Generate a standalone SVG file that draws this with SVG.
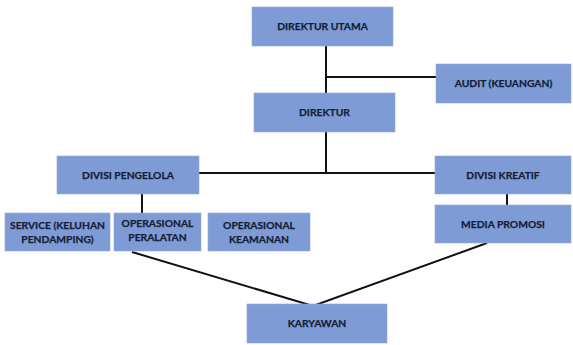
<svg xmlns="http://www.w3.org/2000/svg" width="573" height="345" viewBox="0 0 573 345">
<style>
.box{fill:#7F9BD5;stroke:#8FA8DA;stroke-width:0.6}
.t{font-family:Lato,"Liberation Sans",sans-serif;font-weight:bold;font-size:10.3px;fill:#151d36;text-anchor:middle;stroke:#151d36;stroke-width:0.25}
.c{stroke:#111;stroke-width:2;fill:none}
</style>
<rect width="573" height="345" fill="#fff"/>
<g id="connectors">
<path class="c" d="M326 46V93M326 77H436M326 132V173M199 173H435M142 194V213M507 194V205M132 252L313 306L487 243"/>
</g>
<g id="direktur-utama"><rect class="box" x="252" y="7" width="141" height="39"/><text class="t" x="322.5" y="30">DIREKTUR UTAMA</text></g>
<g id="audit"><rect class="box" x="436" y="64" width="135" height="39"/><text class="t" x="503.5" y="87">AUDIT (KEUANGAN)</text></g>
<g id="direktur"><rect class="box" x="254" y="93" width="141" height="39"/><text class="t" x="324.5" y="116">DIREKTUR</text></g>
<g id="divisi-pengelola"><rect class="box" x="57" y="156" width="142" height="38"/><text class="t" x="128" y="179">DIVISI PENGELOLA</text></g>
<g id="divisi-kreatif"><rect class="box" x="435" y="156" width="136" height="38"/><text class="t" x="503" y="179">DIVISI KREATIF</text></g>
<g id="service"><rect class="box" x="5" y="213" width="105" height="38"/><text class="t" x="57.5" y="229">SERVICE (KELUHAN</text><text class="t" x="57.5" y="243">PENDAMPING)</text></g>
<g id="operasional-peralatan"><rect class="box" x="114" y="213" width="87" height="38"/><text class="t" x="157.5" y="227">OPERASIONAL</text><text class="t" x="157.5" y="241">PERALATAN</text></g>
<g id="operasional-keamanan"><rect class="box" x="208" y="213" width="102" height="38"/><text class="t" x="259" y="229">OPERASIONAL</text><text class="t" x="259" y="243">KEAMANAN</text></g>
<g id="media-promosi"><rect class="box" x="435" y="205" width="136" height="38"/><text class="t" x="503" y="228">MEDIA PROMOSI</text></g>
<g id="karyawan"><rect class="box" x="247" y="304" width="140" height="39"/><text class="t" x="317" y="327">KARYAWAN</text></g>
</svg>
